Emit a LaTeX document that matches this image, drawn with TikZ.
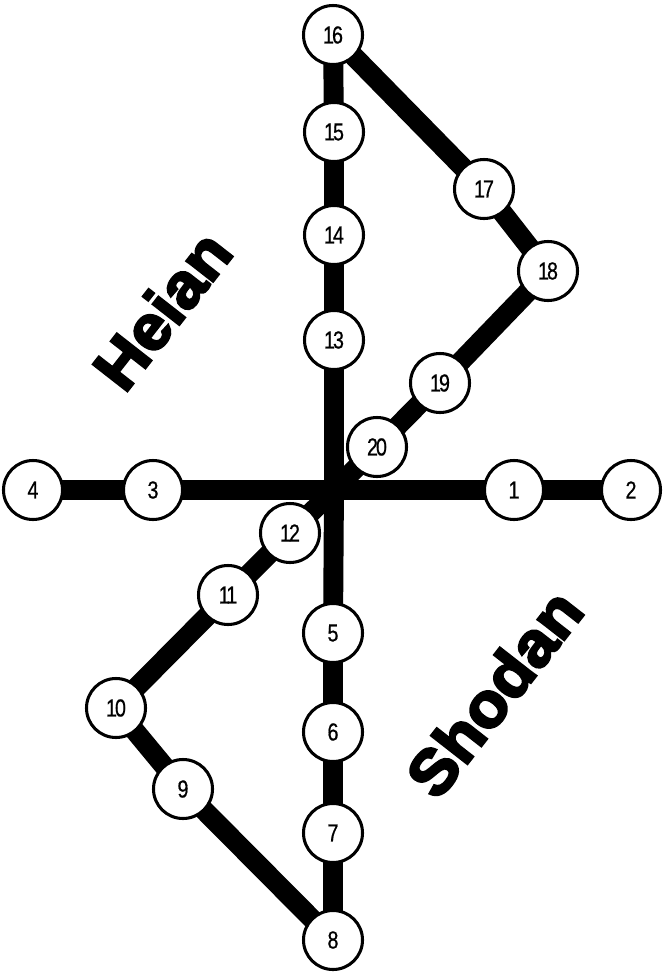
\documentclass[tikz,border=0pt]{standalone}
\usepackage{fontspec}
\usetikzlibrary{backgrounds}
\setmainfont{Liberation Sans}
\newfontfamily\stepfont{Liberation Sans}[FakeStretch=0.8, FakeBold=0.6, LetterSpace=-8]
\newfontfamily\titlefont{Liberation Sans}[UprightFont=* Bold, FakeBold=4, FakeStretch=1.04]
\begin{document}
\begin{tikzpicture}[x=0.03cm,y=-0.03cm]
	\tikzstyle{stepnode}=[draw=black, line width=2.6pt, fill=white, circle, minimum size=1.77cm, inner sep=0pt, font=\stepfont\fontsize{21pt}{21pt}\selectfont]
	\tikzstyle{track}=[black, line width=17pt]
	\tikzstyle{kata}=[font=\titlefont\fontsize{54pt}{54pt}\selectfont, rotate=52, inner sep=0pt]
	\useasboundingbox (0,0) rectangle (665,974);
	\coordinate (c) at (334,490);
	\node [stepnode] (n1) at (514,490) {1};
	\node [stepnode] (n2) at (631,490) {2};
	\node [stepnode] (n3) at (153,490) {3};
	\node [stepnode] (n4) at (33,490) {4};
	\node [stepnode] (n5) at (333,633) {5};
	\node [stepnode] (n6) at (333,732) {6};
	\node [stepnode] (n7) at (333,833) {7};
	\node [stepnode] (n8) at (333,940) {8};
	\node [stepnode] (n9) at (183,789) {9};
	\node [stepnode] (n10) at (116,708) {10};
	\node [stepnode] (n11) at (228,595) {11};
	\node [stepnode] (n12) at (290,533) {12};
	\node [stepnode] (n13) at (334,340) {13};
	\node [stepnode] (n14) at (334,235) {14};
	\node [stepnode] (n15) at (334,132) {15};
	\node [stepnode] (n16) at (333,35) {16};
	\node [stepnode] (n17) at (484,189) {17};
	\node [stepnode] (n18) at (548,271) {18};
	\node [stepnode] (n19) at (440,383) {19};
	\node [stepnode] (n20) at (377,447) {20};
	\begin{scope}[on background layer]
	\draw [track] (n4.center) -- (n3.center) -- (c) -- (n1.center) -- (n2.center);
	\draw [track] (n16.center) -- (n15.center) -- (n14.center) -- (n13.center) -- (c) -- (n5.center) -- (n6.center) -- (n7.center) -- (n8.center);
	\draw [track] (n16.center) -- (n17.center) -- (n18.center) -- (n19.center) -- (n20.center) -- (c) -- (n12.center) -- (n11.center) -- (n10.center) -- (n9.center) -- (n8.center);
	\end{scope}
	\node [kata] (heian) at (162,310) {Heian};
	\node [kata] (shodan) at (494,693) {Shodan};
\end{tikzpicture}
\end{document}
